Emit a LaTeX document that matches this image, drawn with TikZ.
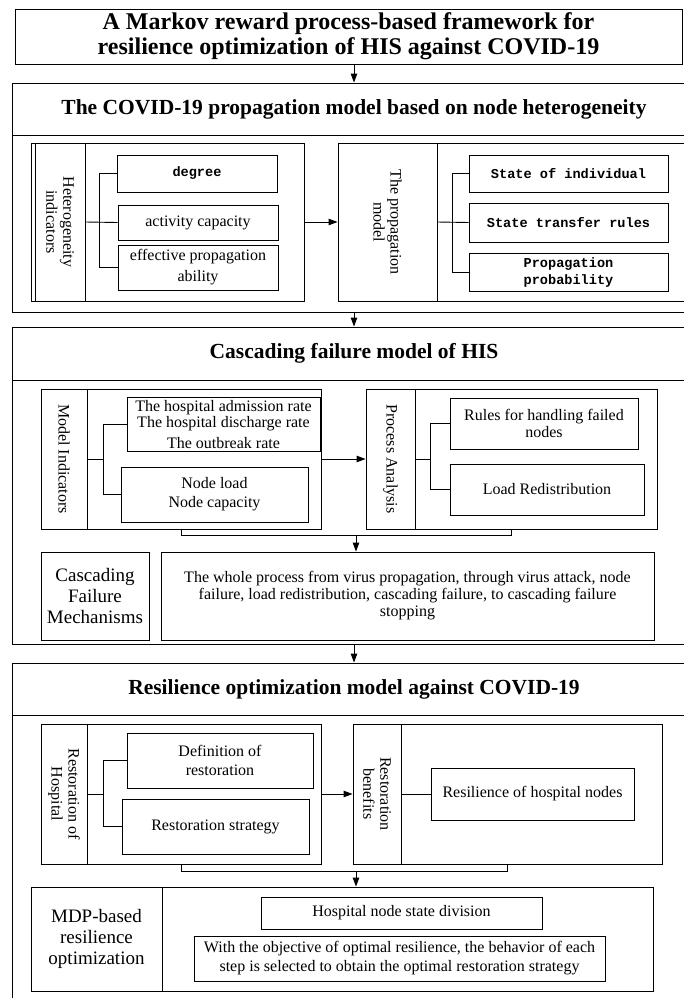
\documentclass[tikz,border=0pt]{standalone}
\usepackage{fontspec}
\setmainfont{Liberation Serif}
\setmonofont{Liberation Mono}
\usepackage{tikz}
\usetikzlibrary{arrows.meta}
\usetikzlibrary{positioning}
\newcommand{\ttlfont}{\fontsize{24}{25}\selectfont\bfseries}
\newcommand{\hdfont}{\fontsize{21.5}{24}\selectfont\bfseries}
\newcommand{\bdfont}{\fontsize{16}{17}\selectfont}
\newcommand{\lblfont}{\fontsize{19}{21}\selectfont}
\newcommand{\mnfont}{\fontsize{13.6}{17}\selectfont\ttfamily\bfseries}
\tikzstyle{box} = [rectangle, draw, inner sep=0pt, align=center, font=\bdfont]
\tikzstyle{grp} = [rectangle, draw, inner sep=0pt]
\tikzstyle{mono} = [box, font=\mnfont]
\tikzstyle{vlbl} = [rotate=-90, align=center, font=\bdfont]

\begin{document}
\begin{tikzpicture}[x=1pt,y=-1pt,line width=0.9pt,
                    >={Triangle[length=9pt,width=6.5pt]}]
  \useasboundingbox (0,0) rectangle (683,998);

  % title
  \node[box, font=\ttlfont, minimum width=667pt, minimum height=55pt] (title) at (348.5,36.5)
       {A Markov reward process-based framework for\\resilience optimization of HIS against COVID-19};

  % ---------- propagation model ----------
  \node[grp, minimum width=684pt, minimum height=229pt] (sec1) at (354,197.5) {};
  \node[box, font=\hdfont, minimum width=684pt, minimum height=52pt] (sec1head) at (354,109)
       {The COVID-19 propagation model based on node heterogeneity};

  \node[grp, minimum width=273pt, minimum height=158pt] (hetgrp) at (167.5,222) {};
  \node[grp, minimum width=50pt, minimum height=158pt] (hetlab) at (60,222) {};
  \node[vlbl] (hettxt) at (hetlab) {Heterogeneity\\indicators};
  \node[mono, minimum width=160pt, minimum height=37pt] (deg) at (197,173.5) {degree};
  \node[box, minimum width=160pt, minimum height=35pt] (act) at (198,222.5) {activity capacity};
  \node[box, minimum width=160pt, minimum height=45pt] (eff) at (198,267.5)
       {effective propagation\\[4pt]ability};
  \draw (deg.west) -- ++(-17,0) |- (eff.west);
  \draw (hetlab.east) -- (act.west);

  \node[grp, minimum width=358pt, minimum height=158pt] (propgrp) at (517,222) {};
  \node[grp, minimum width=99pt, minimum height=158pt] (proplab) at (387.5,222) {};
  \node[vlbl] (proptxt) at (proplab) {The propagation\\model};
  \node[mono, minimum width=199pt, minimum height=37pt] (indiv) at (568.5,173.5) {State of individual};
  \node[mono, minimum width=199pt, minimum height=39pt] (trans) at (568.5,222.5) {State transfer rules};
  \node[mono, minimum width=199pt, minimum height=38pt] (prob) at (568.5,272) {Propagation\\probability};
  \draw (indiv.west) -- ++(-16,0) |- (prob.west);
  \draw (proplab.east) -- (trans.west);

  \draw[->] (hetgrp.east) -- (propgrp.west);
  \draw[->] (title.south -| sec1.north) -- (sec1.north);

  % ---------- cascading failure model ----------
  \node[grp, minimum width=684pt, minimum height=317pt] (sec2) at (354,485.5) {};
  \node[box, font=\hdfont, minimum width=684pt, minimum height=53pt] (sec2head) at (354,353.5)
       {Cascading failure model of HIS};

  \node[grp, minimum width=280pt, minimum height=140pt] (mgrp) at (181,459) {};
  \node[grp, minimum width=46pt, minimum height=140pt] (mlab) at (64,459) {};
  \node[vlbl] (mtxt) at (mlab) {Model Indicators};
  \node[box, font=\fontsize{16}{14.5}\selectfont, minimum width=193pt, minimum height=54pt] (rates) at (223.5,424.5)
       {The hospital admission rate\\The hospital discharge rate\\[5pt]The outbreak rate};
  \node[box, minimum width=187pt, minimum height=55pt] (nload) at (214.5,494.5)
       {Node load\\[2pt]Node capacity};
  \draw (rates.west) -- ++(-23,0) |- (nload.west);
  \draw (mlab.east) -- ++(17,0);

  \node[grp, minimum width=291pt, minimum height=140pt] (pgrp) at (511.5,459) {};
  \node[grp, minimum width=49pt, minimum height=140pt] (plab) at (390.5,459) {};
  \node[vlbl] (ptxt) at (plab) {Process Analysis};
  \node[box, minimum width=188pt, minimum height=51pt] (rules) at (544,423.5)
       {Rules for handling failed\\nodes};
  \node[box, minimum width=194pt, minimum height=51pt] (redis) at (547,489.5) {Load Redistribution};
  \draw (rules.west) -- ++(-19,0) |- (redis.west);
  \draw (plab.east) -- ++(16,0);

  \draw[->] (mgrp.east) -- (pgrp.west);

  \node[box, font=\lblfont, minimum width=108pt, minimum height=88pt] (mech) at (95,596)
       {Cascading\\Failure\\Mechanisms};
  \node[box, minimum width=493pt, minimum height=88pt] (whole) at (407.5,596)
       {The whole process from virus propagation, through virus attack, node\\failure, load redistribution, cascading failure, to cascading failure\\stopping};

  \draw (mgrp.south) -- ++(0,6) -| (pgrp.south);
  \coordinate (b2) at (356,535);
  \draw[->] (b2) -- (b2 |- whole.north);
  \draw[->] (sec1.south) -- (sec2.north);

  % ---------- resilience optimization model ----------
  \node[grp, minimum width=684pt, minimum height=347pt] (sec3) at (354,836.5) {};
  \node[box, font=\hdfont, minimum width=684pt, minimum height=52pt] (sec3head) at (354,689)
       {Resilience optimization model against COVID-19};

  \node[grp, minimum width=280pt, minimum height=140pt] (rgrp) at (181,794) {};
  \node[grp, minimum width=46pt, minimum height=140pt] (rlab) at (64,794) {};
  \node[vlbl] (rtxt) at (rlab) {Restoration of\\Hospital};
  \node[box, minimum width=186pt, minimum height=55pt] (defn) at (220,760.5)
       {Definition of\\[2pt]restoration};
  \node[box, minimum width=187pt, minimum height=55pt] (strat) at (215.5,826.5) {Restoration strategy};
  \draw (defn.west) -- ++(-23,0) |- (strat.west);
  \draw (rlab.east) -- ++(17,0);

  \node[grp, minimum width=309pt, minimum height=140pt] (bgrp) at (507.5,794) {};
  \node[grp, minimum width=48pt, minimum height=140pt] (blab) at (377,794) {};
  \node[vlbl] (btxt) at (blab) {Restoration\\benefits};
  \node[box, minimum width=203pt, minimum height=52pt] (resil) at (532.5,794)
       {Resilience of hospital nodes};
  \draw (blab.east) -- (resil.west);

  \draw[->] (rgrp.east) -- (bgrp.west);

  \node[grp, minimum width=622pt, minimum height=104pt] (mdp) at (342,939) {};
  \node[box, font=\lblfont, minimum width=131pt, minimum height=104pt] (mdplab) at (96.5,939)
       {MDP-based\\resilience\\optimization};
  \node[box, minimum width=281pt, minimum height=32pt] (state) at (401.5,913)
       {Hospital node state division};
  \node[box, minimum width=411pt, minimum height=45pt] (obj) at (399.5,958.5)
       {With the objective of optimal resilience, the behavior of each\\[2pt]step is selected to obtain the optimal restoration strategy};

  \draw (rgrp.south) -- ++(0,7) -| (bgrp.south);
  \coordinate (b3) at (356,871);
  \draw[->] (b3) -- (b3 |- mdp.north);
  \draw[->] (sec2.south) -- (sec3.north);
\end{tikzpicture}
\end{document}
